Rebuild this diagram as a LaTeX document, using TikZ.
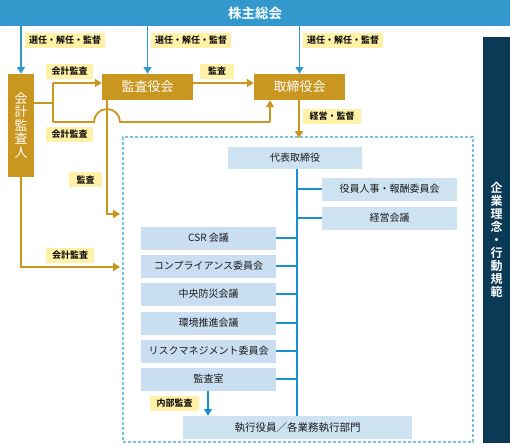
\documentclass[tikz,border=0pt]{standalone}
\usepackage{fontspec}
\setmainfont{Noto Sans CJK JP}[BoldFont={Noto Sans CJK JP Bold}]
\usetikzlibrary{arrows.meta}
\definecolor{topblue}{HTML}{3399CC}
\definecolor{goldc}{HTML}{C9961F}
\definecolor{ylw}{HTML}{FFF2A8}
\definecolor{lblue}{HTML}{CDE3F2}
\definecolor{lblueb}{HTML}{C9DEF1}
\definecolor{treeblue}{HTML}{1A8FCF}
\definecolor{dashblue}{HTML}{7DC1E3}
\definecolor{navy}{HTML}{0B3A57}
\definecolor{txt}{HTML}{1A1A1A}
\begin{document}
\begin{tikzpicture}[x=1pt,y=-1pt,
  goldbox/.style={fill=goldc, text=white, inner sep=0pt, font=\fontsize{13}{13.5}\selectfont},
  lbl/.style={fill=ylw, text=black, inner sep=0pt, minimum height=15pt, font=\bfseries\fontsize{9}{9.5}\selectfont},
  lbox/.style={fill=lblue, text=txt, inner sep=0pt, minimum height=23pt, minimum width=135pt, font=\fontsize{10}{11}\selectfont},
  lboxb/.style={lbox, fill=lblueb},
  arr/.style={-{Triangle[length=7pt,width=8pt]}},
  bl/.style={draw=topblue, line width=1.8pt},
  gl/.style={draw=goldc, line width=1.8pt},
  tl/.style={draw=treeblue, line width=1.8pt}
]
\useasboundingbox (0,0) rectangle (510,445);

% top bar
\node[fill=topblue, text=white, inner sep=0pt, minimum width=510pt, minimum height=26pt, font=\bfseries\fontsize{13.5}{14}\selectfont] (top) at (255,13) {株主総会};

% right panel
\node[fill=navy, text=white, inner sep=0pt, minimum width=27pt, minimum height=406pt, align=center, font=\bfseries\fontsize{12}{13.1}\selectfont] (panel) at (496.5,240) {企\\業\\理\\念\\・\\行\\動\\規\\範};

% dashed group
\node[draw=dashblue, line width=1.8pt, dash pattern=on 3pt off 2pt, minimum width=350pt, minimum height=305pt, inner sep=0pt] (grp) at (298,289.5) {};

% gold boxes
\node[goldbox, minimum width=26pt, minimum height=103pt, align=center] (kaikei) at (21,125.5) {会\\計\\監\\査\\人};
\node[goldbox, minimum width=91pt, minimum height=26pt] (kansa) at (147.5,87) {監査役会};
\node[goldbox, minimum width=91pt, minimum height=26pt] (tori) at (299.5,87) {取締役会};

% light boxes
\node[lbox, minimum width=134pt, minimum height=22pt] (daihyo) at (295,158) {代表取締役};
\node[lbox] (yakuin) at (389.5,189) {役員人事・報酬委員会};
\node[lbox] (keiei) at (389.5,218) {経営会議};
\node[lboxb] (csr) at (208.5,238) {CSR 会議};
\node[lboxb] (comp) at (208.5,266) {コンプライアンス委員会};
\node[lboxb] (bousai) at (208.5,294) {中央防災会議};
\node[lboxb] (kankyo) at (208.5,323) {環境推進会議};
\node[lboxb] (risk) at (208.5,351) {リスクマネジメント委員会};
\node[lboxb] (kansashitsu) at (208.5,379) {監査室};
\node[lbox, minimum width=229pt, font=\fontsize{10.5}{11}\selectfont] (shikko) at (297.5,427.5) {執行役員／各業務執行部門};

% labels
\node[lbl, minimum width=80pt] (l1) at (65,40) {選任・解任・監督};
\node[lbl, minimum width=80pt] (l2) at (191,40) {選任・解任・監督};
\node[lbl, minimum width=80pt] (l3) at (343,40) {選任・解任・監督};
\node[lbl, minimum width=47pt] (l4) at (69.5,71) {会計監査};
\node[lbl, minimum width=47pt] (l5) at (69.5,134.5) {会計監査};
\node[lbl, minimum width=34pt] (l6) at (217,71) {監査};
\node[lbl, minimum width=58pt] (l7) at (332,116) {経営・監督};
\node[lbl, minimum width=33pt] (l8) at (85.5,179.5) {監査};
\node[lbl, minimum width=48pt] (l9) at (70,255.5) {会計監査};
\node[lbl, minimum width=49pt] (l10) at (174.5,403) {内部監査};

% blue arrows from top
\draw[bl, arr] (kaikei.north |- top.south) -- (kaikei.north);
\draw[bl, arr] (kansa.north |- top.south) -- (kansa.north);
\draw[bl, arr] (tori.north |- top.south) -- (tori.north);

% gold connectors
\draw[gl, arr] ([yshift=4pt]kansa.east) -- ([yshift=4pt]tori.west);
\coordinate (ja) at (53,83);
\coordinate (jb) at (53,122);
\coordinate (jc) at (270,122);
\coordinate (jm) at (53,103);
\draw[gl] (kaikei.east |- jm) -- (jm);
\draw[gl] (ja) -- (jb);
\draw[gl, arr] (ja) -- (ja -| kansa.west);
\draw[gl] (jb) -- (94,122) arc[start angle=180, end angle=0, radius=13pt] -- (jc);
\draw[gl, arr] (jc) -- (jc |- tori.south);
\coordinate (kd) at (107,214);
\draw[gl, arr] (kd |- kansa.south) -- (kd) -- ([xshift=-2pt]kd -| grp.west);
\coordinate (ke) at (21,267);
\draw[gl, arr] (kaikei.south) -- (ke) -- ([xshift=-2pt]ke -| grp.west);
\draw[gl, arr] ([xshift=-0.5pt]tori.south) -- ([xshift=-0.5pt,yshift=-2pt]tori.south |- grp.north);

% blue tree
\coordinate (tv) at (297,0);
\draw[tl] (tv |- daihyo.south) -- (tv |- shikko.north);
\foreach \bx in {yakuin,keiei}{
  \draw[tl] (\bx.west) -- (\bx.west -| tv);
}
\foreach \bx in {csr,comp,bousai,kankyo,risk,kansashitsu}{
  \draw[tl] (\bx.east) -- (\bx.east -| tv);
}
\draw[tl, arr] (kansashitsu.south -| 208,0) -- (shikko.north -| 208,0);
\end{tikzpicture}
\end{document}
